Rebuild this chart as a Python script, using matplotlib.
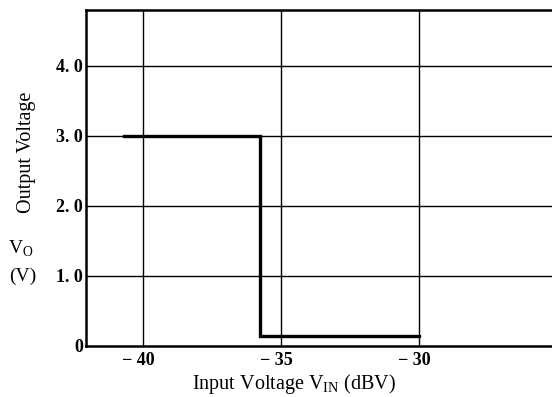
import matplotlib.pyplot as plt
from matplotlib.transforms import ScaledTranslation

# output level vs input level (step response of the detector)
vin = [-40.7, -35.75, -35.75, -30.0]
vo = [3.0, 3.0, 0.15, 0.15]

x_grid = [-40, -35, -30]
x_labels = ["\u2212 40", "\u2212 35", "\u2212 30"]
y_grid = [0, 1, 2, 3, 4]
y_labels = ["0", "1. 0", "2. 0", "3. 0", "4. 0"]

plt.rcParams['font.family'] = ['Liberation Serif', 'DejaVu Serif']

fig = plt.figure(figsize=(5.52, 3.97), dpi=100)
W, H = 552, 397
ax = fig.add_axes([86 / W, (H - 346) / H, (560 - 86) / W, (346 - 10) / H])

ax.set_xlim(-42.07, -24.9)
ax.set_ylim(0, 4.8)

for x in x_grid:
    ax.axvline(x, color='black', linewidth=1.0, zorder=1)
for y in y_grid[1:]:
    ax.axhline(y, color='black', linewidth=1.0, zorder=1)

ax.plot(vin, vo, color='black', linewidth=2.4, solid_joinstyle='miter', zorder=3)

for s in ['left', 'bottom', 'top']:
    ax.spines[s].set_linewidth(1.8)
ax.spines['right'].set_visible(False)

ax.set_xticks(x_grid)
ax.set_xticklabels(x_labels, fontsize=13, fontweight='bold')
ax.set_yticks(y_grid)
ax.set_yticklabels(y_labels, fontsize=13, fontweight='bold')
ax.tick_params(axis='x', length=0, pad=4)
ax.tick_params(axis='y', length=0, pad=2)

# keep the digits centred under the grid lines, minus sign hangs left
shift = ScaledTranslation(-3.5 / 72, 0, fig.dpi_scale_trans)
for lab in ax.get_xticklabels():
    lab.set_transform(lab.get_transform() + shift)

fig.text(294 / W, 1 - 384 / H, r"Input Voltage V$_{\mathregular{IN}}$ (dBV)",
         ha='center', va='center', fontsize=14.5)
fig.text(26 / W, 1 - 152 / H, "Output Voltage", rotation=90,
         ha='center', va='center', fontsize=14.5)
fig.text(21 / W, 1 - 249 / H, r"V$_{\mathregular{O}}$",
         ha='center', va='center', fontsize=14)
fig.text(23 / W, 1 - 276 / H, "(V)", ha='center', va='center', fontsize=14)

fig.savefig("out.png", dpi=100)
plt.close(fig)
